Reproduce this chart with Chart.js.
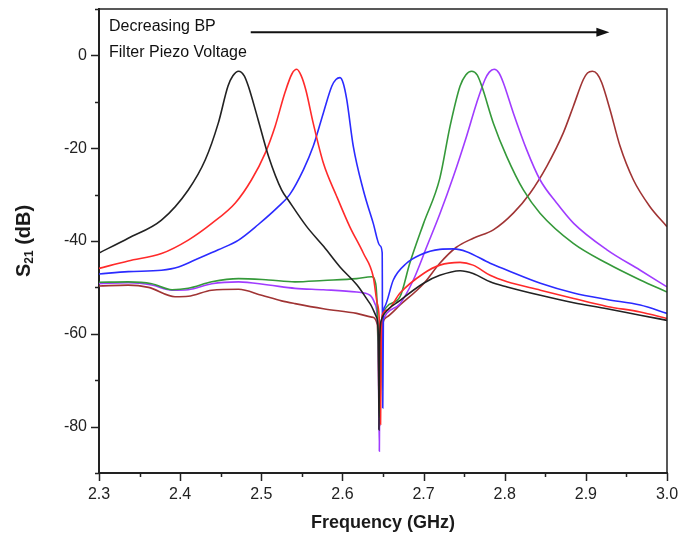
<!DOCTYPE html>
<html>
<head>
<meta charset="utf-8">
<script src="https://cdn.jsdelivr.net/npm/chart.js@4.4.1/dist/chart.umd.min.js"></script>
<style>
  html, body { margin: 0; padding: 0; background: #fff; }
  #wrap { width: 680px; height: 540px; }
</style>
</head>
<body>
<div id="wrap"><canvas id="s21Chart" width="680" height="540"></canvas></div>
<script>
// ===== Data (frequency in GHz, S21 in dB) =====
const blackFreq = [2.300, 2.336, 2.377, 2.410, 2.431, 2.447, 2.459, 2.465, 2.472, 2.479, 2.484, 2.496, 2.509, 2.525, 2.533, 2.556, 2.577, 2.597, 2.618, 2.634, 2.642, 2.6445, 2.645, 2.6458, 2.648, 2.652, 2.671, 2.700, 2.720, 2.745, 2.761, 2.782, 2.803, 2.844, 2.885, 2.926, 2.967, 3.000];
const blackDb   = [-42.6, -39.4, -35.5, -29.0, -22.5, -14.6, -6.6, -4.4, -3.4, -4.4, -6.6, -13.8, -21.8, -29.0, -31.1, -36.9, -41.2, -45.6, -49.5, -53.5, -56.4, -62.0, -80.7, -62.0, -57.0, -55.6, -52.8, -49.1, -47.4, -46.4, -47.0, -48.8, -49.9, -51.7, -53.3, -54.6, -56.0, -57.1];

const redFreq = [2.300, 2.336, 2.377, 2.410, 2.439, 2.468, 2.488, 2.505, 2.517, 2.529, 2.538, 2.5437, 2.549, 2.555, 2.564, 2.5765, 2.593, 2.609, 2.626, 2.638, 2.643, 2.6465, 2.647, 2.6478, 2.649, 2.655, 2.671, 2.700, 2.720, 2.745, 2.761, 2.782, 2.803, 2.844, 2.885, 2.926, 2.967, 3.000];
const redDb   = [-45.9, -44.3, -42.7, -39.8, -36.2, -31.8, -26.8, -21.0, -15.3, -8.1, -3.9, -3.0, -4.3, -7.5, -14.6, -23.2, -30.4, -36.9, -42.7, -47.7, -53.5, -62.0, -79.5, -62.0, -56.0, -54.9, -51.2, -47.0, -45.2, -44.6, -45.2, -47.4, -48.8, -50.6, -52.4, -54.1, -55.3, -56.7];

const blueFreq = [2.300, 2.336, 2.377, 2.398, 2.418, 2.447, 2.472, 2.496, 2.521, 2.535, 2.552, 2.564, 2.5765, 2.587, 2.592, 2.597, 2.601, 2.6053, 2.6134, 2.6257, 2.638, 2.6463, 2.649, 2.6497, 2.6505, 2.652, 2.6627, 2.679, 2.6956, 2.720, 2.737, 2.753, 2.782, 2.803, 2.844, 2.885, 2.926, 2.967, 3.000];
const blueDb   = [-47.1, -46.6, -46.3, -45.6, -44.1, -41.9, -39.8, -36.5, -32.6, -30.0, -24.6, -19.6, -12.4, -6.6, -5.2, -4.8, -6.0, -9.5, -19.6, -29.0, -36.2, -41.0, -42.5, -76.0, -56.0, -54.2, -48.4, -44.8, -43.0, -41.8, -41.7, -42.3, -44.8, -46.3, -49.1, -51.2, -52.6, -53.8, -55.6];

const greenFreq = [2.300, 2.336, 2.365, 2.390, 2.410, 2.439, 2.472, 2.509, 2.5415, 2.5765, 2.6175, 2.636, 2.641, 2.644, 2.646, 2.648, 2.6546, 2.671, 2.683, 2.700, 2.720, 2.7326, 2.745, 2.752, 2.7593, 2.766, 2.7717, 2.786, 2.8025, 2.823, 2.8435, 2.8845, 2.926, 2.967, 3.000];
const greenDb   = [-48.9, -48.8, -49.2, -50.5, -50.2, -48.8, -48.1, -48.4, -48.8, -48.5, -48.1, -47.7, -49.2, -60.0, -78.0, -60.0, -54.2, -52.0, -44.8, -36.2, -26.5, -15.3, -6.6, -4.2, -3.4, -4.2, -6.6, -14.6, -21.8, -29.0, -34.0, -40.5, -44.8, -48.4, -51.0];

const purpleFreq = [2.300, 2.336, 2.365, 2.390, 2.410, 2.439, 2.472, 2.509, 2.5415, 2.5765, 2.6175, 2.634, 2.640, 2.644, 2.6455, 2.6463, 2.648, 2.6546, 2.671, 2.6874, 2.704, 2.720, 2.7367, 2.753, 2.7655, 2.7757, 2.781, 2.787, 2.793, 2.7983, 2.8106, 2.827, 2.8435, 2.864, 2.885, 2.926, 2.967, 3.000];
const purpleDb   = [-49.2, -49.0, -49.5, -50.6, -50.5, -49.2, -48.8, -49.5, -50.2, -50.5, -51.0, -51.7, -53.5, -60.0, -85.3, -62.0, -58.0, -55.6, -53.5, -48.4, -41.2, -34.2, -26.1, -17.4, -10.2, -5.2, -3.6, -3.0, -3.8, -5.9, -12.4, -20.3, -26.8, -31.8, -36.2, -41.9, -46.3, -49.9];

const brownFreq = [2.300, 2.336, 2.361, 2.3937, 2.410, 2.439, 2.472, 2.5005, 2.525, 2.5415, 2.5765, 2.6175, 2.636, 2.643, 2.646, 2.648, 2.6546, 2.671, 2.700, 2.720, 2.740, 2.7613, 2.786, 2.8106, 2.8312, 2.8518, 2.8722, 2.8845, 2.8969, 2.902, 2.908, 2.914, 2.9196, 2.9298, 2.9422, 2.9585, 2.979, 3.000];
const brownDb   = [-49.7, -49.5, -50.0, -52.0, -51.9, -50.6, -50.4, -51.7, -52.9, -53.5, -54.6, -55.6, -56.4, -58.0, -80.0, -60.0, -56.4, -53.8, -49.2, -44.8, -41.4, -39.4, -37.6, -34.0, -29.7, -23.9, -16.7, -11.0, -5.2, -3.8, -3.4, -4.0, -5.9, -11.7, -19.6, -26.8, -32.6, -36.9];

const xMin = 2.3, xMax = 3.0, xStep = 0.05;
const yMin = -90, yMax = 10, yStep = 10;

const annotationLines = ['Decreasing BP', 'Filter Piezo Voltage'];
// arrow runs along this level (GHz span, dB)
const arrowFrom = 2.487, arrowTo = 2.929, arrowDb = 5;

const FONT = '"Liberation Sans", Arial, sans-serif';

function toPoints(freq, db) {
    return freq.map((f, i) => ({ x: f, y: db[i] }));
}

function series(label, freq, db, color) {
    return {
        label,
        data: toPoints(freq, db),
        borderColor: color,
        backgroundColor: color,
        borderWidth: 1.6,
        pointRadius: 0,
        cubicInterpolationMode: 'monotone',
        fill: false
    };
}

// ===== Frame, ticks, axis titles, annotation =====
const framePlugin = {
    id: 'frame',
    afterDraw(chart) {
        const { ctx, chartArea: a, scales } = chart;
        const xs = scales.x, ys = scales.y;
        ctx.save();
        ctx.strokeStyle = '#222';

        // top and right border
        ctx.lineWidth = 1.5;
        ctx.beginPath();
        ctx.moveTo(a.left, a.top);
        ctx.lineTo(a.right, a.top);
        ctx.lineTo(a.right, a.bottom);
        ctx.stroke();

        // tick marks (outward), long for labelled ones
        ctx.lineWidth = 1.5;
        ys.ticks.forEach(t => {
            const py = Math.round(ys.getPixelForValue(t.value)) + 0.5;
            const len = t.label !== '' ? 8 : 4;
            ctx.beginPath();
            ctx.moveTo(a.left - len, py);
            ctx.lineTo(a.left, py);
            ctx.stroke();
        });
        xs.ticks.forEach(t => {
            const px = Math.round(xs.getPixelForValue(t.value)) + 0.5;
            const len = t.label !== '' ? 8 : 4;
            ctx.beginPath();
            ctx.moveTo(px, a.bottom);
            ctx.lineTo(px, a.bottom + len);
            ctx.stroke();
        });

        // x title
        ctx.fillStyle = '#1a1a1a';
        ctx.font = 'bold 18px ' + FONT;
        ctx.textAlign = 'center';
        ctx.textBaseline = 'middle';
        ctx.fillText('Frequency (GHz)', (a.left + a.right) / 2, 523);

        // y title with subscript
        ctx.save();
        ctx.translate(24, (a.top + a.bottom) / 2);
        ctx.rotate(-Math.PI / 2);
        ctx.textAlign = 'left';
        ctx.textBaseline = 'middle';
        const big = 'bold 20px ' + FONT, small = 'bold 12px ' + FONT;
        ctx.font = big;
        const wS = ctx.measureText('S').width;
        const wTail = ctx.measureText(' (dB)').width;
        ctx.font = small;
        const wSub = ctx.measureText('21').width;
        let x0 = -(wS + wSub + wTail) / 2;
        ctx.font = big;
        ctx.fillText('S', x0, 0);
        ctx.font = small;
        ctx.fillText('21', x0 + wS, 6);
        ctx.font = big;
        ctx.fillText(' (dB)', x0 + wS + wSub, 0);
        ctx.restore();

        // annotation text
        ctx.fillStyle = '#111';
        ctx.font = '16px ' + FONT;
        ctx.textAlign = 'left';
        ctx.textBaseline = 'middle';
        ctx.fillText(annotationLines[0], a.left + 10, a.top + 18);
        ctx.fillText(annotationLines[1], a.left + 10, a.top + 44);

        // arrow
        const ax0 = xs.getPixelForValue(arrowFrom);
        const ax1 = xs.getPixelForValue(arrowTo);
        const ay = ys.getPixelForValue(arrowDb);
        ctx.strokeStyle = '#111';
        ctx.fillStyle = '#111';
        ctx.lineWidth = 2;
        ctx.beginPath();
        ctx.moveTo(ax0, ay);
        ctx.lineTo(ax1 - 10, ay);
        ctx.stroke();
        ctx.beginPath();
        ctx.moveTo(ax1, ay);
        ctx.lineTo(ax1 - 13, ay - 4.5);
        ctx.lineTo(ax1 - 13, ay + 4.5);
        ctx.closePath();
        ctx.fill();

        ctx.restore();
    }
};

const ctx = document.getElementById('s21Chart').getContext('2d');

new Chart(ctx, {
    type: 'line',
    data: {
        datasets: [
            series('Black', blackFreq, blackDb, '#222222'),
            series('Red', redFreq, redDb, '#ff2a2a'),
            series('Blue', blueFreq, blueDb, '#2b2bff'),
            series('Green', greenFreq, greenDb, '#35993a'),
            series('Purple', purpleFreq, purpleDb, '#a03cff'),
            series('Brown', brownFreq, brownDb, '#a03434')
        ]
    },
    options: {
        responsive: false,
        animation: false,
        layout: { padding: { top: 9, right: 13, left: 0, bottom: 0 } },
        plugins: {
            legend: { display: false },
            tooltip: { enabled: false }
        },
        scales: {
            x: {
                type: 'linear',
                min: xMin,
                max: xMax,
                grid: { display: false, drawTicks: false },
                border: { display: true, color: '#222', width: 2 },
                ticks: {
                    stepSize: xStep,
                    padding: 12,
                    maxRotation: 0,
                    autoSkip: false,
                    color: '#222',
                    font: { family: FONT, size: 16 },
                    callback: v => (Math.round(v * 100) % 10 === 0 ? v.toFixed(1) : '')
                },
                afterFit: s => {
                    s.height = 67;
                    s.paddingLeft = 0;
                    s.paddingRight = 0;
                }
            },
            y: {
                type: 'linear',
                min: yMin,
                max: yMax,
                grid: { display: false, drawTicks: false },
                border: { display: true, color: '#222', width: 2 },
                ticks: {
                    stepSize: yStep,
                    padding: 12,
                    autoSkip: false,
                    color: '#222',
                    font: { family: FONT, size: 16 },
                    callback: v => (v % 20 === 0 && v <= 0 && v >= -80 ? String(v) : '')
                },
                afterFit: s => {
                    s.width = 99;
                    s.paddingTop = 0;
                    s.paddingBottom = 0;
                }
            }
        }
    },
    plugins: [framePlugin]
});
</script>
</body>
</html>
